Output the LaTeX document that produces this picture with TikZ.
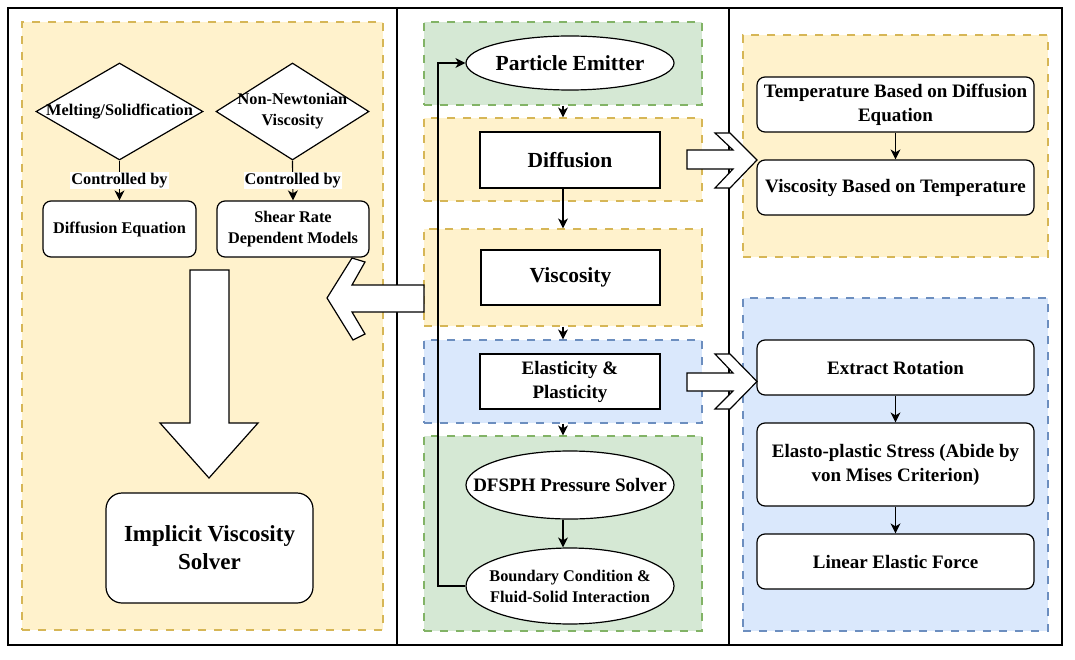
\documentclass[tikz,border=0pt]{standalone}
\usepackage{fontspec}
\setmainfont{Liberation Serif}
\usetikzlibrary{shapes.geometric, arrows.meta}
\definecolor{yfill}{HTML}{FFF2CC}
\definecolor{ydraw}{HTML}{D6B656}
\definecolor{gfill}{HTML}{D5E8D4}
\definecolor{gdraw}{HTML}{82B366}
\definecolor{bfill}{HTML}{DAE8FC}
\definecolor{bdraw}{HTML}{6C8EBF}
\begin{document}
\begin{tikzpicture}[x=1pt,y=-1pt,
  frame/.style={rectangle, draw=black, line width=1.2pt, inner sep=0pt},
  cont/.style={rectangle, dash pattern=on 8pt off 8pt, line width=1.2pt, inner sep=0pt},
  ycont/.style={cont, fill=yfill, draw=ydraw},
  gcont/.style={cont, fill=gfill, draw=gdraw},
  bcont/.style={cont, fill=bfill, draw=bdraw},
  fA/.style={font=\bfseries\fontsize{21.5pt}{27pt}\selectfont},
  fB/.style={font=\bfseries\fontsize{19pt}{24pt}\selectfont},
  fC/.style={font=\bfseries\fontsize{16.3pt}{21pt}\selectfont},
  fD/.style={font=\bfseries\fontsize{23pt}{28pt}\selectfont},
  box/.style={rectangle, draw=black, fill=white, line width=1.2pt, inner sep=0pt, align=center},
  rbox/.style={box, rounded corners=8pt},
  ell/.style={ellipse, draw=black, fill=white, line width=1.2pt, inner sep=0pt, minimum width=208pt},
  dia/.style={diamond, draw=black, fill=white, line width=1.2pt, inner sep=0pt, minimum height=97pt},
  lbl/.style={fC, fill=white, inner sep=1pt},
  link/.style={draw=black, line width=1.2pt, -{Stealth[length=10pt,width=10pt,inset=3pt]}},
  blockarrow/.style={draw=black, fill=white, line width=1.2pt, line join=miter}
]
\useasboundingbox (0,0) rectangle (1075,660);

% outer frames
\node[frame, minimum width=389pt, minimum height=637pt] (fleft) at (202.5,326.5) {};
\node[frame, minimum width=332pt, minimum height=637pt] (fmid) at (563,326.5) {};
\node[frame, minimum width=333pt, minimum height=637pt] (fright) at (895.5,326.5) {};

% containers
\node[ycont, minimum width=361pt, minimum height=608pt] (cL) at (202.5,326) {};
\node[gcont, minimum width=278pt, minimum height=83pt] (cPE) at (563,63.5) {};
\node[ycont, minimum width=278pt, minimum height=83pt] (cDif) at (563,159.5) {};
\node[ycont, minimum width=278pt, minimum height=97pt] (cVis) at (563,277.5) {};
\node[bcont, minimum width=278pt, minimum height=83pt] (cEla) at (563,381.5) {};
\node[gcont, minimum width=278pt, minimum height=195pt] (cSol) at (563,533.5) {};
\node[ycont, minimum width=305pt, minimum height=222pt] (cT) at (895.5,146) {};
\node[bcont, minimum width=305pt, minimum height=333pt] (cR) at (895.5,464.5) {};

% left column
\node[dia, minimum width=167pt, label={[fC, inner sep=0pt]center:Melting/Solidfication}] (d1) at (119.5,111.5) {};
\node[dia, minimum width=153pt, label={[fC, inner sep=0pt, align=center]center:{Non-Newtonian\\Viscosity}}] (d2) at (292.5,111.5) {};
\node[rbox, fC, minimum width=153pt, minimum height=56pt] (deq) at (119.5,229) {Diffusion Equation};
\node[rbox, fC, minimum width=152pt, minimum height=56pt] (shear) at (293,229) {Shear Rate\\Dependent Models};
\node[rbox, fD, rounded corners=16pt, minimum width=207pt, minimum height=110pt] (ivs) at (209.5,548) {Implicit Viscosity\\Solver};

% middle column
\node[ell, minimum height=54pt, label={[fA, inner sep=0pt]center:Particle Emitter}] (pe) at (570,63) {};
\node[box, fA, minimum width=180pt, minimum height=56pt] (dif) at (570,160) {Diffusion};
\node[box, fA, minimum width=179pt, minimum height=55pt] (vis) at (570.5,277.5) {Viscosity};
\node[box, fB, minimum width=180pt, minimum height=55pt] (ela) at (570,381.5) {Elasticity \&\\Plasticity};
\node[ell, minimum height=68pt, label={[fB, inner sep=0pt]center:DFSPH Pressure Solver}] (dfsph) at (570,485) {};
\node[ell, minimum height=76pt, label={[fC, inner sep=0pt, align=center]center:{Boundary Condition \&\\Fluid-Solid Interaction}}] (bc) at (570,586) {};

% right column
\node[rbox, fB, minimum width=277pt, minimum height=55pt] (temp) at (895.5,104.5) {Temperature Based on Diffusion\\Equation};
\node[rbox, fB, minimum width=277pt, minimum height=55pt] (visT) at (895.5,187.5) {Viscosity Based on Temperature};
\node[rbox, fB, minimum width=277pt, minimum height=55pt] (rot) at (895.5,367.5) {Extract Rotation};
\node[rbox, fB, minimum width=277pt, minimum height=83pt] (stress) at (895.5,464.5) {Elasto-plastic Stress (Abide by\\von Mises Criterion)};
\node[rbox, fB, minimum width=277pt, minimum height=55pt] (lin) at (895.5,561.5) {Linear Elastic Force};

% connectors
\draw[link] (d1.south) -- node[lbl]{Controlled by} (deq.north);
\draw[link] (d2.south) -- node[lbl]{Controlled by} (shear.north);
\draw[link] (cPE.south) -- (cDif.north);
\draw[link] (dif.south -| cVis.north) -- (cVis.north);
\draw[link] (cVis.south) -- (cEla.north);
\draw[link] (cEla.south) -- (cSol.north);
\draw[link] ([xshift=-7pt]dfsph.south) -- ([xshift=-7pt]bc.north);
\coordinate (fb) at (438,586);
\draw[link] (bc.west) -- (fb) |- (pe.west);
\draw[link] (temp.south) -- (visT.north);
\draw[link] (rot.south) -- (stress.north);
\draw[link] (stress.south) -- (lin.north);

% block arrows
\draw[blockarrow] (190,270) -- (229,270) -- (229,423) -- (258,423) -- (209,478) -- (160,423) -- (190,423) -- cycle;
\draw[blockarrow] (424,285) -- (352,285) -- (365,262) -- (352,258) -- (327,298) -- (353,340) -- (365,334) -- (352,312) -- (424,312) -- cycle;
\draw[blockarrow] (687,150) -- (733,150) -- (715,133) -- (730,133) -- (757,160) -- (730,188) -- (715,188) -- (733,169) -- (687,169) -- cycle;
\draw[blockarrow] (687,373) -- (733,373) -- (715,354) -- (730,354) -- (757,381.5) -- (730,409) -- (715,409) -- (733,391) -- (687,391) -- cycle;
\end{tikzpicture}
\end{document}
